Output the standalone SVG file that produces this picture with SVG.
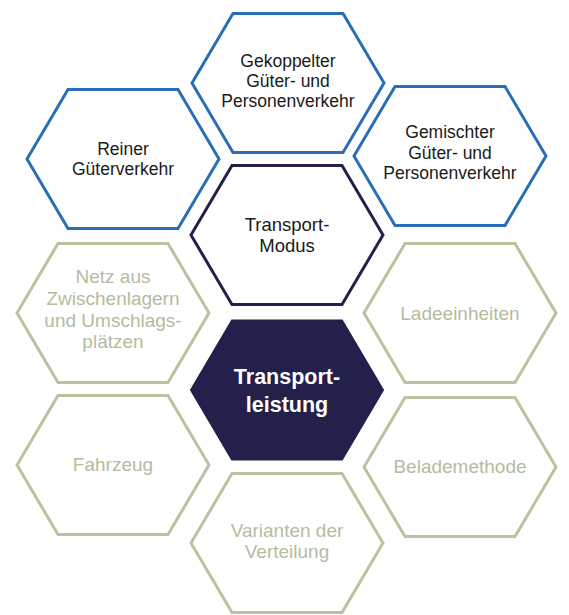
<svg xmlns="http://www.w3.org/2000/svg" xmlns:xlink="http://www.w3.org/1999/xlink" width="569" height="615" viewBox="0 0 569 615">
  <defs>
    <path id="hex" d="M-96,0 L-55,-69.5 L55,-69.5 L96,0 L55,69.5 L-55,69.5 Z"/>
    <style>
      .blue { fill: #ffffff; stroke: #2a6fb5; stroke-width: 3; stroke-linejoin: miter; }
      .navy { fill: #ffffff; stroke: #23214b; stroke-width: 3; }
      .dark { fill: #23214b; stroke: #23214b; stroke-width: 2; }
      .green { fill: #ffffff; stroke: #b8c3a0; stroke-width: 3; }
      text { font-family: "Liberation Sans", Arial, sans-serif; text-anchor: middle; }
      .tb { fill: #1a1a1a; font-size: 17.5px; }
      .tm { fill: #1a1a1a; font-size: 18.5px; }
      .tg { fill: #b3bc9f; font-size: 19px; }
      .tw { fill: #ffffff; font-size: 21.5px; font-weight: bold; }
    </style>
  </defs>
  <rect width="569" height="615" fill="#ffffff"/>
  <g id="connectors"></g>

  <g id="gekoppelt">
    <use xlink:href="#hex" href="#hex" x="288" y="83" class="blue"/>
    <text class="tb"><tspan x="288" y="67">Gekoppelter</tspan><tspan x="288" y="87">Güter- und</tspan><tspan x="288" y="107">Personenverkehr</tspan></text>
  </g>

  <g id="reiner">
    <use xlink:href="#hex" href="#hex" x="123" y="159" class="blue"/>
    <text class="tb"><tspan x="123" y="155">Reiner</tspan><tspan x="123" y="175">Güterverkehr</tspan></text>
  </g>

  <g id="gemischt">
    <use xlink:href="#hex" href="#hex" x="450" y="156" class="blue"/>
    <text class="tb"><tspan x="450" y="138">Gemischter</tspan><tspan x="450" y="159">Güter- und</tspan><tspan x="450" y="179">Personenverkehr</tspan></text>
  </g>

  <g id="modus">
    <use xlink:href="#hex" href="#hex" x="287" y="235" class="navy"/>
    <text class="tm"><tspan x="287" y="231">Transport-</tspan><tspan x="287" y="252">Modus</tspan></text>
  </g>

  <g id="netz">
    <use xlink:href="#hex" href="#hex" x="113" y="313" class="green"/>
    <text class="tg"><tspan x="113" y="283">Netz aus</tspan><tspan x="113" y="305">Zwischenlagern</tspan><tspan x="113" y="327">und Umschlags-</tspan><tspan x="113" y="348">plätzen</tspan></text>
  </g>

  <g id="ladeeinheiten">
    <use xlink:href="#hex" href="#hex" x="460" y="313" class="green"/>
    <text class="tg" x="460" y="320">Ladeeinheiten</text>
  </g>

  <g id="transportleistung">
    <use xlink:href="#hex" href="#hex" x="287" y="390" class="dark"/>
    <text class="tw"><tspan x="287" y="384">Transport-</tspan><tspan x="287" y="412">leistung</tspan></text>
  </g>

  <g id="fahrzeug">
    <use xlink:href="#hex" href="#hex" x="113" y="465" class="green"/>
    <text class="tg" x="113" y="471">Fahrzeug</text>
  </g>

  <g id="belademethode">
    <use xlink:href="#hex" href="#hex" x="460" y="467" class="green"/>
    <text class="tg" x="460" y="473">Belademethode</text>
  </g>

  <g id="varianten">
    <use xlink:href="#hex" href="#hex" x="287" y="543" class="green"/>
    <text class="tg"><tspan x="287" y="537">Varianten der</tspan><tspan x="287" y="558">Verteilung</tspan></text>
  </g>
</svg>
